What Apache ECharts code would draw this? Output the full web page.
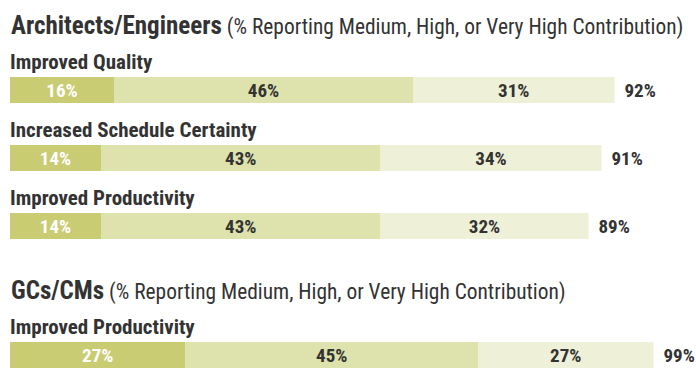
<!DOCTYPE html>
<html>
<head>
<meta charset="utf-8">
<script src="https://cdn.jsdelivr.net/npm/echarts@6/dist/echarts.min.js"></script>
<style>
html,body{margin:0;padding:0;background:#fff;}
#chart{width:696px;height:385px;}
</style>
</head>
<body>
<div id="chart"></div>
<script>
const groupTitles = ['Architects/Engineers', 'GCs/CMs'];
const subtitle = '(% Reporting Medium, High, or Very High Contribution)';
const aeCategories = ['Improved Quality', 'Increased Schedule Certainty', 'Improved Productivity'];
const aeVeryHigh = [16, 14, 14];
const aeHigh = [46, 43, 43];
const aeMedium = [31, 34, 32];
const aeTotal = [92, 91, 89];
const gcCategories = ['Improved Productivity'];
const gcVeryHigh = [27];
const gcHigh = [45];
const gcMedium = [27];
const gcTotal = [99];

const FONT = "'Roboto Condensed', 'Liberation Sans Narrow', 'DejaVu Sans Condensed', Roboto, sans-serif";
const DARK = '#333333';
const segColors = ['#c9cc72', '#dee2ac', '#eef0d7'];
const segText = ['#ffffff', DARK, DARK];

const chart = echarts.init(document.getElementById('chart'), null, {renderer: 'svg'});

function groupSeries(gridIdx, parts, totals) {
  const out = [];
  parts.forEach((arr, i) => {
    out.push({
      type: 'bar', stack: 's' + gridIdx, xAxisIndex: gridIdx, yAxisIndex: gridIdx,
      data: arr, barWidth: 26, silent: true,
      itemStyle: {color: segColors[i]},
      label: {show: true, position: 'inside', formatter: '{c}%', color: segText[i],
        fontFamily: FONT, fontWeight: 'bold', fontSize: 19}
    });
  });
  out.push({
    type: 'bar', stack: 's' + gridIdx, xAxisIndex: gridIdx, yAxisIndex: gridIdx,
    data: totals.map(() => 0), barWidth: 26, silent: true,
    itemStyle: {color: 'transparent'},
    label: {show: true, position: 'right', distance: 10,
      formatter: p => totals[p.dataIndex] + '%', color: DARK,
      fontFamily: FONT, fontWeight: 'bold', fontSize: 19}
  });
  return out;
}

function titleRich() {
  return {
    a: {fontFamily: FONT, fontWeight: 'bold', fontSize: 25, color: DARK, lineHeight: 28},
    b: {fontFamily: FONT, fontWeight: 'normal', fontSize: 21.4, color: DARK, lineHeight: 28, padding: [2, 0, 0, 0]}
  };
}

const yCommon = {
  type: 'category', inverse: true,
  axisLine: {show: false}, axisTick: {show: false}, splitLine: {show: false},
  axisLabel: {inside: true, margin: 0, align: 'left', verticalAlign: 'middle', interval: 0,
    hideOverlap: false,
    formatter: v => '{n|' + v + '}\n{g|}',
    rich: {
      n: {color: DARK, fontFamily: FONT, fontWeight: 'bold', fontSize: 21, lineHeight: 22},
      g: {height: 56, lineHeight: 56}
    }
  }
};
const xCommon = {type: 'value', min: 0, max: 100, show: false};

chart.setOption({
  animation: false,
  title: [
    {left: 6, top: 6, text: '{a|' + groupTitles[0] + '} {b|' + subtitle + '}',
      textStyle: {rich: titleRich()}},
    {left: 6, top: 271, text: '{a|' + groupTitles[1] + '} {b|' + subtitle + '}',
      textStyle: {rich: titleRich()}}
  ],
  grid: [
    {left: 10, right: 36, top: 56, height: 204, containLabel: false, outerBoundsMode: 'none'},
    {left: 10, right: 36, top: 342, height: 26, containLabel: false, outerBoundsMode: 'none'}
  ],
  xAxis: [Object.assign({gridIndex: 0}, xCommon), Object.assign({gridIndex: 1}, xCommon)],
  yAxis: [
    Object.assign({gridIndex: 0, data: aeCategories}, yCommon),
    Object.assign({gridIndex: 1, data: gcCategories}, yCommon)
  ],
  series: groupSeries(0, [aeVeryHigh, aeHigh, aeMedium], aeTotal)
    .concat(groupSeries(1, [gcVeryHigh, gcHigh, gcMedium], gcTotal))
});
</script>
</body>
</html>
